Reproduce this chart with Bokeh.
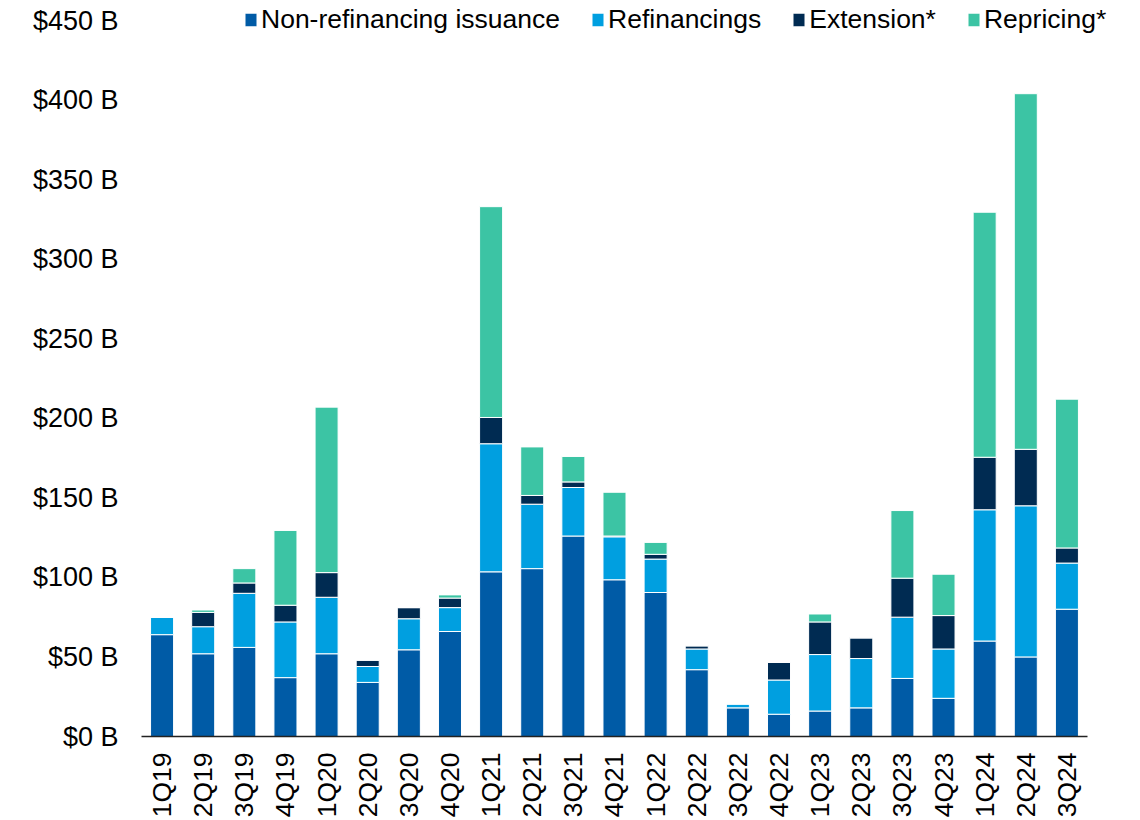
from bokeh.plotting import figure
from bokeh.models import ColumnDataSource, Range1d, PrintfTickFormatter, FixedTicker
from bokeh.embed import file_html
from bokeh.resources import INLINE
import math

quarters = ["1Q19", "2Q19", "3Q19", "4Q19", "1Q20", "2Q20", "3Q20", "4Q20",
            "1Q21", "2Q21", "3Q21", "4Q21", "1Q22", "2Q22", "3Q22", "4Q22",
            "1Q23", "2Q23", "3Q23", "4Q23", "1Q24", "2Q24", "3Q24"]

non_refinancing = [64, 52, 56, 37, 52, 34, 54.5, 66, 103.5, 105.5, 126, 98.5, 90.5, 42, 18, 14,
                   16, 18, 36.5, 24, 60, 50, 80]
refinancings = [11, 17, 34, 35, 35.5, 10, 19.5, 15, 80.5, 40.5, 30.5, 27, 21, 13, 2.5, 21.5,
                35.5, 31, 38.5, 31, 82.5, 95, 29]
extension = [0, 9, 6.5, 10.5, 15.5, 4, 7, 6, 16.5, 5.5, 3.5, 0.5, 3, 2, 0, 11,
             20.5, 13, 24.5, 21, 33, 35.5, 9.5]
repricing = [0, 1.5, 9, 47, 104, 0, 0, 2, 132.5, 30.5, 16, 27.5, 7.5, 0, 0, 0,
             5, 0, 42.5, 26, 154, 223.5, 93.5]

series_names = ["Non-refinancing issuance", "Refinancings", "Extension*", "Repricing*"]
series_keys = ["nonref", "refi", "ext", "rep"]
colors = ["#005BA6", "#009FE0", "#002B52", "#3CC4A4"]

y_ticks = [0, 50, 100, 150, 200, 250, 300, 350, 400, 450]

idx = list(range(len(quarters)))
source = ColumnDataSource(dict(x=idx, q=quarters, nonref=non_refinancing, refi=refinancings,
                               ext=extension, rep=repricing))

FONT = "Liberation Sans"

# frame spans 0..736 px vertically; 450 sits 20 px below the frame top
y_top = 450 + 20 * 450 / 716
x_end = len(quarters) - 0.5 + 0.9

p = figure(x_range=Range1d(-0.5, x_end), y_range=Range1d(0, y_top),
           width=1124, height=820, output_backend="svg", toolbar_location=None,
           min_border_left=141, min_border_right=0, min_border_top=0, min_border_bottom=84)

p.vbar_stack(series_keys, x="x", width=0.56, color=colors, line_color="white", line_width=1,
             source=source, legend_label=series_names)

p.outline_line_color = None
p.xgrid.grid_line_color = None
p.ygrid.grid_line_color = None

p.yaxis.ticker = FixedTicker(ticks=y_ticks)
p.yaxis.formatter = PrintfTickFormatter(format="$%d B")
p.yaxis.axis_line_color = None
p.yaxis.major_tick_line_color = None
p.yaxis.minor_tick_line_color = None
p.yaxis.major_label_standoff = 17
p.yaxis.major_label_text_font = FONT
p.yaxis.major_label_text_font_size = "27px"
p.yaxis.major_label_text_color = "#000000"

p.xaxis.ticker = FixedTicker(ticks=idx)
p.xaxis.major_label_overrides = {i: q for i, q in zip(idx, quarters)}
p.xaxis.bounds = (-0.5, len(quarters) - 0.5)
p.xaxis.axis_line_color = "#222222"
p.xaxis.axis_line_width = 1.5
p.xaxis.major_tick_line_color = None
p.xaxis.minor_tick_line_color = None
p.xaxis.major_label_orientation = math.pi / 2
p.xaxis.major_label_standoff = 10
p.xaxis.major_label_text_font = FONT
p.xaxis.major_label_text_font_size = "26.5px"
p.xaxis.major_label_text_color = "#000000"

leg = p.legend[0]
leg.orientation = "horizontal"
leg.location = (102, 701)
leg.background_fill_alpha = 0
leg.border_line_alpha = 0
leg.padding = 0
leg.margin = 0
leg.spacing = 30
leg.label_standoff = 3
leg.glyph_width = 15
leg.glyph_height = 17
leg.label_text_font = FONT
leg.label_text_font_size = "26.5px"
leg.label_text_color = "#000000"

open("out.html", "w").write(file_html(p, INLINE))
